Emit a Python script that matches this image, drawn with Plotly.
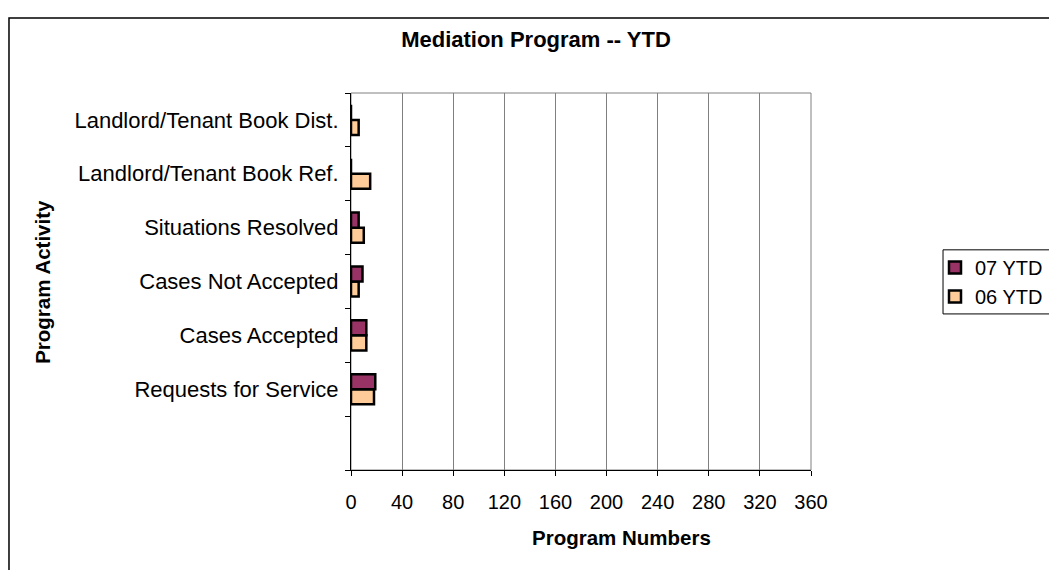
import plotly.graph_objects as go

# categories bottom -> top (first slot is the empty row under the bars)
activities = [" ", "Requests for Service", "Cases Accepted", "Cases Not Accepted",
              "Situations Resolved", "Landlord/Tenant Book Ref.", "Landlord/Tenant Book Dist."]
ytd_07 = [None, 19, 12, 9, 6, 0, 0]
ytd_06 = [None, 18, 12, 6, 10, 15, 6]
x_ticks = [0, 40, 80, 120, 160, 200, 240, 280, 320, 360]

FONT = "Liberation Sans, Arial, sans-serif"
W, H = 1041, 562

fig = go.Figure()
fig.add_trace(go.Bar(y=activities, x=ytd_06, orientation='h', name='06 YTD', legendrank=2,
                     marker=dict(color='#FFCC99', line=dict(color='black', width=2.5))))
fig.add_trace(go.Bar(y=activities, x=ytd_07, orientation='h', name='07 YTD', legendrank=1,
                     marker=dict(color='#993366', line=dict(color='black', width=2.5))))

# page body adds an 8px margin, figure sized so the page needs no scrollbars
fig.update_layout(
    width=W, height=H,
    margin=dict(l=343, r=238, t=85, b=100),
    paper_bgcolor='white', plot_bgcolor='white',
    font=dict(family=FONT, color='black'),
    barmode='group', bargap=0.44, bargroupgap=0,
    title=dict(text='<b>Mediation Program -- YTD</b>', font=dict(size=22),
               x=528 / W, xanchor='center', xref='container',
               y=1 - 31 / H, yanchor='middle', yref='container'),
    showlegend=True,
    legend=dict(xref='container', yref='container', x=927 / W, xanchor='left',
                y=1 - 308 / H, yanchor='bottom', traceorder='normal',
                font=dict(size=20), bgcolor='rgba(0,0,0,0)', borderwidth=0),
    xaxis=dict(range=[0, 360], tickvals=x_ticks, showgrid=True, gridcolor='#808080', gridwidth=1,
               showline=True, linecolor='black', linewidth=1, ticks='outside', ticklen=5,
               tickcolor='black', tickfont=dict(size=20), ticklabelstandoff=9, zeroline=False),
    yaxis=dict(type='category', categoryorder='array', categoryarray=activities,
               range=[-0.5, 6.5], showgrid=False, showline=True, linecolor='black', linewidth=1,
               ticks='outside', tickson='boundaries', ticklen=5, tickcolor='black',
               tickfont=dict(size=22), ticklabelstandoff=7),
    annotations=[
        dict(text='<b>Program Numbers</b>', xref='paper', yref='paper', x=0.587, y=-0.178,
             showarrow=False, font=dict(size=20.5), xanchor='center', yanchor='middle'),
        dict(text='<b>Program Activity</b>', xref='paper', yref='paper', x=-0.671, y=0.5,
             showarrow=False, font=dict(size=20.5), textangle=-90, xanchor='center', yanchor='middle'),
    ],
    shapes=[
        # plot area frame (top/right in grey)
        dict(type='rect', xref='paper', yref='paper', x0=0, x1=1, y0=0, y1=1,
             line=dict(color='#808080', width=1), layer='below'),
        # outer chart frame
        dict(type='rect', xref='paper', yref='paper', x0=-0.7435, x1=1.7, y0=-0.4, y1=1.199,
             line=dict(color='black', width=1.5), layer='below'),
        # legend box
        dict(type='rect', xref='paper', yref='paper', x0=1.287, x1=1.7, y0=0.414, y1=0.584,
             line=dict(color='black', width=1), layer='below'),
    ],
)

fig.write_html("out.html")
